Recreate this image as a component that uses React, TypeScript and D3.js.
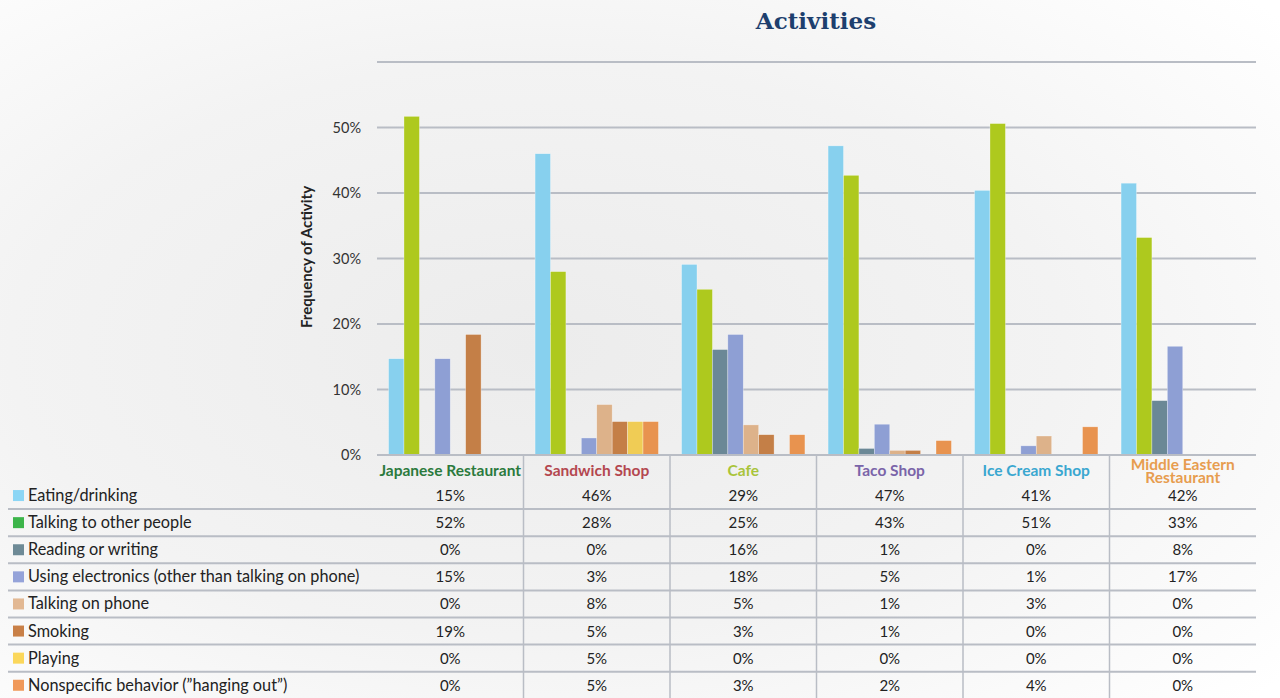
import * as d3 from 'd3';

const W = 1280;
const H = 698;

const CATEGORIES = ['Japanese Restaurant', 'Sandwich Shop', 'Cafe', 'Taco Shop', 'Ice Cream Shop', 'Middle Eastern Restaurant'];
const CATEGORY_COLORS = ['#2b7a3d', '#b4474f', '#a9c43a', '#7a64a9', '#3aa7d0', '#e79d4f'];

const SERIES = [
  'Eating/drinking',
  'Talking to other people',
  'Reading or writing',
  'Using electronics (other than talking on phone)',
  'Talking on phone',
  'Smoking',
  'Playing',
  'Nonspecific behavior (”hanging out”)',
];
const BAR_COLORS = ['#87d0ee', '#aec91e', '#6b8896', '#8e9fd4', '#ddb28a', '#c47f47', '#f0cc55', '#e8934f'];
const SWATCH_COLORS = ['#8cd6f5', '#3cb54a', '#6e8a96', '#95a3d9', '#e2b893', '#c98047', '#fbd75b', '#f0995a'];

// bar heights (percent)
const EATING = [14.7, 46.0, 29.1, 47.2, 40.4, 41.5];
const TALKING = [51.7, 28.0, 25.3, 42.7, 50.6, 33.2];
const READING = [0, 0, 16.1, 1.0, 0, 8.3];
const ELECTRONICS = [14.7, 2.6, 18.4, 4.7, 1.4, 16.6];
const PHONE = [0, 7.7, 4.6, 0.7, 2.9, 0];
const SMOKING = [18.4, 5.1, 3.1, 0.7, 0, 0];
const PLAYING = [0, 5.1, 0, 0, 0, 0];
const HANGING = [0, 5.1, 3.1, 2.2, 4.3, 0];
const VALUES = [EATING, TALKING, READING, ELECTRONICS, PHONE, SMOKING, PLAYING, HANGING];

// printed table values
const TABLE = [
  ['15%', '46%', '29%', '47%', '41%', '42%'],
  ['52%', '28%', '25%', '43%', '51%', '33%'],
  ['0%', '0%', '16%', '1%', '0%', '8%'],
  ['15%', '3%', '18%', '5%', '1%', '17%'],
  ['0%', '8%', '5%', '1%', '3%', '0%'],
  ['19%', '5%', '3%', '1%', '0%', '0%'],
  ['0%', '5%', '0%', '0%', '0%', '0%'],
  ['0%', '5%', '3%', '2%', '4%', '0%'],
];

const Y_TICKS = [0, 10, 20, 30, 40, 50, 60];

const FONT = 'Lato, "Open Sans", sans-serif';
const GRID = '#b9bdc5';

export default function App() {
  const left = 377;
  const right = 1256;
  const y0 = 455;
  const x = d3.scaleBand<string>().domain(CATEGORIES).range([left, right]).padding(0);
  const inner = d3.scaleBand<string>().domain(SERIES).range([0, x.bandwidth()]).paddingInner(0).paddingOuter(0.75);
  const y = d3.scaleLinear().domain([0, 60]).range([y0, 62]);

  const rowTop = 482;
  const rowH = 27.1;

  return (
    <svg width={W} height={H} style={{ position: 'absolute', left: 0, top: 0 }} fontFamily={FONT}>
      <defs>
        <radialGradient id="bg" cx="0.42" cy="0.5" r="0.75">
          <stop offset="0" stopColor="#ececec" />
          <stop offset="0.55" stopColor="#f3f3f3" />
          <stop offset="1" stopColor="#ffffff" />
        </radialGradient>
      </defs>
      <rect width={W} height={H} fill="url(#bg)" />

      <text x={816} y={29} textAnchor="middle" fontFamily='"DejaVu Serif", serif' fontWeight="bold" fontSize={23} fill="#1d3f6e">
        Activities
      </text>

      {Y_TICKS.map((t) => (
        <g key={t}>
          <line x1={left} x2={right} y1={y(t)} y2={y(t)} stroke={GRID} strokeWidth={2} />
          {t < 60 && (
            <text x={361} y={y(t) + 5} textAnchor="end" fontSize={14.5} fill="#333">
              {t}%
            </text>
          )}
        </g>
      ))}

      <text
        transform={`translate(312,${257}) rotate(-90)`}
        textAnchor="middle"
        fontSize={15}
        fontWeight="bold"
        fill="#222"
      >
        Frequency of Activity
      </text>

      {CATEGORIES.map((c, ci) => (
        <g key={c} transform={`translate(${x(c)},0)`}>
          {SERIES.map((s, si) => {
            const v = VALUES[si][ci];
            if (v <= 0) return null;
            return (
              <rect
                key={s}
                x={inner(s)}
                y={y(v)}
                width={inner.bandwidth()}
                height={y0 - y(v)}
                fill={BAR_COLORS[si]}
                stroke="#ffffff"
                strokeOpacity={0.5}
                strokeWidth={0.6}
              />
            );
          })}
        </g>
      ))}

      {/* table */}
      {SERIES.slice(1).map((s, i) => (
        <line key={s} x1={8} x2={right} y1={rowTop + rowH * (i + 1)} y2={rowTop + rowH * (i + 1)} stroke={GRID} strokeWidth={2} />
      ))}
      {CATEGORIES.slice(1).map((c) => (
        <line key={c} x1={x(c)} x2={x(c)} y1={y0} y2={H} stroke={GRID} strokeWidth={1.5} />
      ))}
      <line x1={left} x2={right} y1={y0} y2={y0} stroke={GRID} strokeWidth={2} />

      {CATEGORIES.map((c, ci) => {
        const cx = (x(c) as number) + x.bandwidth() / 2;
        const words = c === 'Middle Eastern Restaurant' ? ['Middle Eastern', 'Restaurant'] : [c];
        return (
          <text key={c} textAnchor="middle" fontSize={15.5} fontWeight="bold" fill={CATEGORY_COLORS[ci]}>
            {words.length === 1 ? (
              <tspan x={cx} y={476}>
                {c}
              </tspan>
            ) : (
              words.map((w, wi) => (
                <tspan key={w} x={cx} y={470 + wi * 13}>
                  {w}
                </tspan>
              ))
            )}
          </text>
        );
      })}

      {SERIES.map((s, si) => {
        const cy = rowTop + rowH * si + rowH / 2;
        return (
          <g key={s}>
            <rect x={13} y={cy - 5.5} width={11} height={11} fill={SWATCH_COLORS[si]} />
            <text x={28} y={cy + 5.5} fontSize={16.3} fill="#222">
              {s}
            </text>
            {CATEGORIES.map((c, ci) => (
              <text key={c} x={(x(c) as number) + x.bandwidth() / 2} y={cy + 5.5} textAnchor="middle" fontSize={15} fill="#222">
                {TABLE[si][ci]}
              </text>
            ))}
          </g>
        );
      })}
    </svg>
  );
}
